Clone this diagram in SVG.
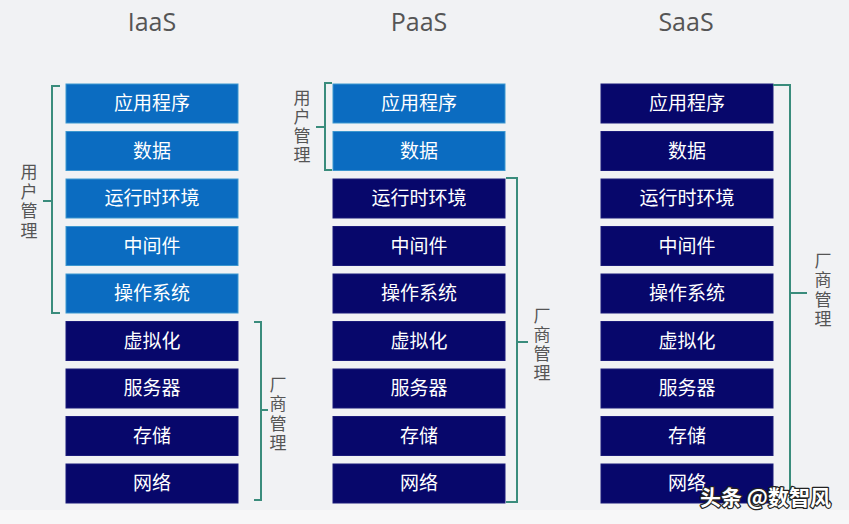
<svg xmlns="http://www.w3.org/2000/svg" width="849" height="524" viewBox="0 0 849 524">
<style>
.bg{fill:#f1f2f4}
.u{fill:#0b6cc1;stroke:#3d97cf;stroke-width:1}
.v{fill:#07076b;stroke:#1a1a7a;stroke-width:1}
.t{font-family:"Noto Sans CJK SC","Noto Sans",sans-serif;font-size:19px;fill:#ffffff;text-anchor:middle}
.h{font-family:"Open Sans","Noto Sans",sans-serif;font-size:25px;fill:#555555;text-anchor:middle}
.lb{font-family:"Noto Sans CJK SC",sans-serif;font-size:17px;fill:#555555;writing-mode:vertical-rl;text-orientation:upright;letter-spacing:2.3px}
.br{fill:none;stroke:#3a8c7c;stroke-width:2}
.wm{font-family:"Noto Sans CJK SC",sans-serif;font-size:21px;font-weight:bold;fill:#ffffff;stroke:#222222;stroke-width:2.5;paint-order:stroke;stroke-linejoin:round}
</style>
<rect class="bg" x="0" y="0" width="849" height="524"/>
<rect x="0" y="510" width="849" height="14" fill="#f7f7f8"/>
<g id="headers">
<text class="h" x="152" y="31">IaaS</text>
<text class="h" x="419" y="31">PaaS</text>
<text class="h" x="686" y="31">SaaS</text>
</g>
<g id="iaas">
<g id="iaas-app"><rect class="u" x="66" y="84" width="172" height="39"/><text class="t" x="152" y="110">应用程序</text></g>
<g id="iaas-data"><rect class="u" x="66" y="131.5" width="172" height="39"/><text class="t" x="152" y="157.5">数据</text></g>
<g id="iaas-runtime"><rect class="u" x="66" y="179" width="172" height="39"/><text class="t" x="152" y="205">运行时环境</text></g>
<g id="iaas-mw"><rect class="u" x="66" y="226.5" width="172" height="39"/><text class="t" x="152" y="252.5">中间件</text></g>
<g id="iaas-os"><rect class="u" x="66" y="274" width="172" height="39"/><text class="t" x="152" y="300">操作系统</text></g>
<g id="iaas-virt"><rect class="v" x="66" y="321.5" width="172" height="39"/><text class="t" x="152" y="347.5">虚拟化</text></g>
<g id="iaas-server"><rect class="v" x="66" y="369" width="172" height="39"/><text class="t" x="152" y="395">服务器</text></g>
<g id="iaas-storage"><rect class="v" x="66" y="416.5" width="172" height="39"/><text class="t" x="152" y="442.5">存储</text></g>
<g id="iaas-net"><rect class="v" x="66" y="464" width="172" height="39"/><text class="t" x="152" y="490">网络</text></g>
</g>
<g id="paas">
<g id="paas-app"><rect class="u" x="333" y="84" width="172" height="39"/><text class="t" x="419" y="110">应用程序</text></g>
<g id="paas-data"><rect class="u" x="333" y="131.5" width="172" height="39"/><text class="t" x="419" y="157.5">数据</text></g>
<g id="paas-runtime"><rect class="v" x="333" y="179" width="172" height="39"/><text class="t" x="419" y="205">运行时环境</text></g>
<g id="paas-mw"><rect class="v" x="333" y="226.5" width="172" height="39"/><text class="t" x="419" y="252.5">中间件</text></g>
<g id="paas-os"><rect class="v" x="333" y="274" width="172" height="39"/><text class="t" x="419" y="300">操作系统</text></g>
<g id="paas-virt"><rect class="v" x="333" y="321.5" width="172" height="39"/><text class="t" x="419" y="347.5">虚拟化</text></g>
<g id="paas-server"><rect class="v" x="333" y="369" width="172" height="39"/><text class="t" x="419" y="395">服务器</text></g>
<g id="paas-storage"><rect class="v" x="333" y="416.5" width="172" height="39"/><text class="t" x="419" y="442.5">存储</text></g>
<g id="paas-net"><rect class="v" x="333" y="464" width="172" height="39"/><text class="t" x="419" y="490">网络</text></g>
</g>
<g id="saas">
<g id="saas-app"><rect class="v" x="601" y="84" width="172" height="39"/><text class="t" x="687" y="110">应用程序</text></g>
<g id="saas-data"><rect class="v" x="601" y="131.5" width="172" height="39"/><text class="t" x="687" y="157.5">数据</text></g>
<g id="saas-runtime"><rect class="v" x="601" y="179" width="172" height="39"/><text class="t" x="687" y="205">运行时环境</text></g>
<g id="saas-mw"><rect class="v" x="601" y="226.5" width="172" height="39"/><text class="t" x="687" y="252.5">中间件</text></g>
<g id="saas-os"><rect class="v" x="601" y="274" width="172" height="39"/><text class="t" x="687" y="300">操作系统</text></g>
<g id="saas-virt"><rect class="v" x="601" y="321.5" width="172" height="39"/><text class="t" x="687" y="347.5">虚拟化</text></g>
<g id="saas-server"><rect class="v" x="601" y="369" width="172" height="39"/><text class="t" x="687" y="395">服务器</text></g>
<g id="saas-storage"><rect class="v" x="601" y="416.5" width="172" height="39"/><text class="t" x="687" y="442.5">存储</text></g>
<g id="saas-net"><rect class="v" x="601" y="464" width="172" height="39"/><text class="t" x="687" y="490">网络</text></g>
</g>
<g id="brackets">
<path class="br" d="M60,86 H52 V313 H60 M52,201 H43"/>
<path class="br" d="M254,322 H261 V500 H254 M261,410 H268"/>
<path class="br" d="M332,83 H325 V170 H332 M325,127 H316"/>
<path class="br" d="M506,178 H517 V502 H506 M517,342 H528"/>
<path class="br" d="M773,85 H790 V501 M790,293 H807"/>
</g>
<g id="labels">
<text class="lb" x="29" y="163" style="letter-spacing:2.7px">用户管理</text>
<text class="lb" x="278" y="376">厂商管理</text>
<text class="lb" x="302" y="89" style="letter-spacing:2px">用户管理</text>
<text class="lb" x="542" y="307" style="letter-spacing:2px">厂商管理</text>
<text class="lb" x="823" y="252">厂商管理</text>
</g>
<text class="wm" x="700" y="505">头条 @数智风</text>
</svg>
